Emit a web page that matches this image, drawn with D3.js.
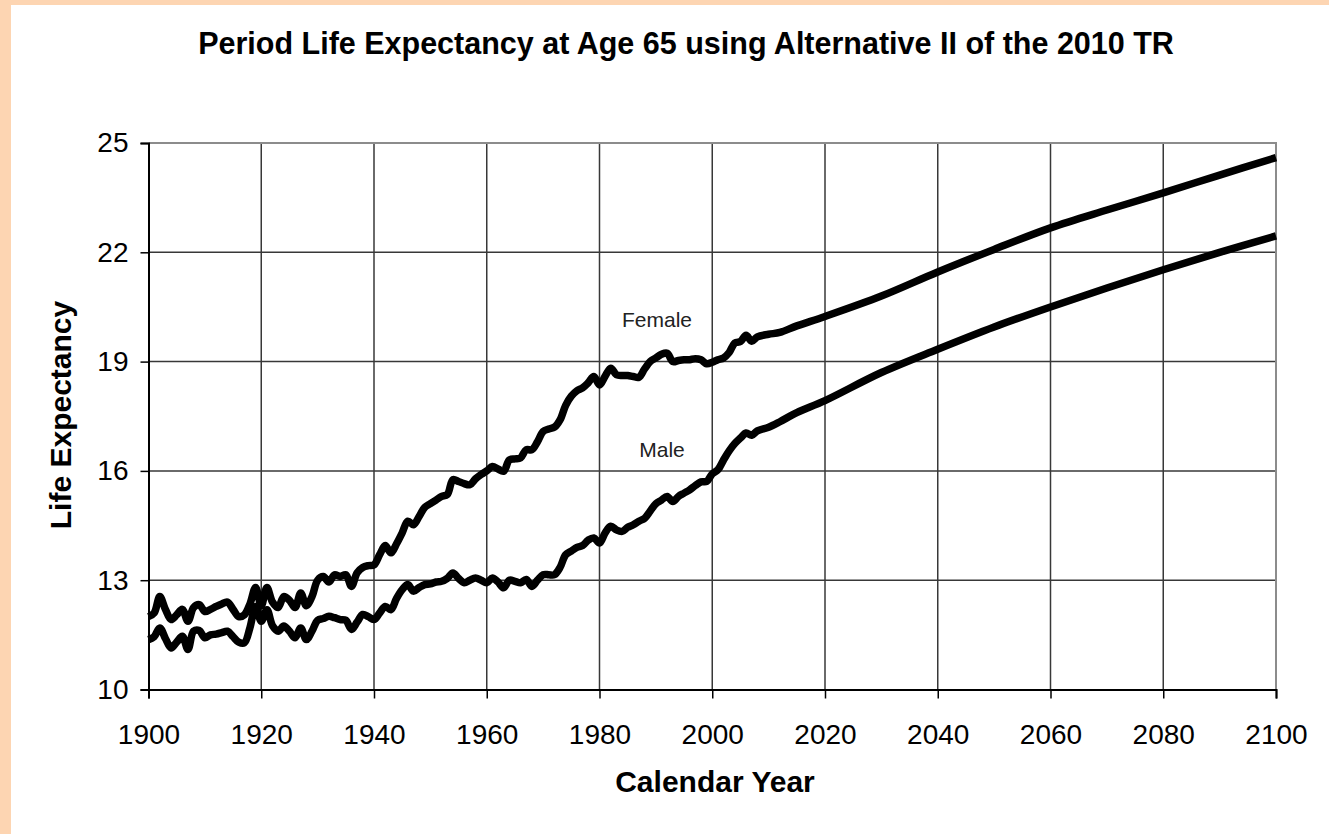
<!DOCTYPE html>
<html>
<head>
<meta charset="utf-8">
<script src="https://cdn.jsdelivr.net/npm/d3@7"></script>
<style>
  body { margin: 0; background: #fff; }
  text { font-family: "Liberation Sans", Arial, sans-serif; }
</style>
</head>
<body>
<div id="chart"></div>
<script>
// period life expectancy at 65
const femaleYears = [1900,1901,1902,1903,1904,1905,1906,1907,1908,1909,1910,1911,1912,1913,1914,1915,1916,1917,1918,1919,
  1920,1921,1922,1923,1924,1925,1926,1927,1928,1929,1930,1931,1932,1933,1934,1935,1936,1937,1938,1939,
  1940,1941,1942,1943,1944,1945,1946,1947,1948,1949,1950,1951,1952,1953,1954,1955,1956,1957,1958,1959,
  1960,1961,1962,1963,1964,1965,1966,1967,1968,1969,1970,1971,1972,1973,1974,1975,1976,1977,1978,1979,
  1980,1981,1982,1983,1984,1985,1986,1987,1988,1989,1990,1991,1992,1993,1994,1995,1996,1997,1998,1999,
  2000,2001,2002,2003,2004,2005,2006,2007,2008,2010,2012,2015,2020,2030,2040,2050,2060,2070,2080,2090,2100];
const femaleValues = [12.0,12.1,12.55,12.2,11.92,12.05,12.2,11.87,12.25,12.33,12.14,12.2,12.28,12.35,12.4,12.2,12.0,12.05,12.35,12.8,
  12.3,12.8,12.4,12.25,12.55,12.45,12.25,12.65,12.3,12.55,13.0,13.1,12.95,13.15,13.1,13.15,12.83,13.2,13.35,13.4,
  13.42,13.7,13.95,13.75,14.0,14.3,14.62,14.52,14.75,15.0,15.1,15.2,15.3,15.35,15.76,15.71,15.65,15.62,15.78,15.9,
  16.0,16.12,16.05,15.99,16.3,16.33,16.36,16.58,16.58,16.8,17.08,17.15,17.2,17.4,17.8,18.05,18.2,18.28,18.42,18.59,
  18.36,18.6,18.82,18.64,18.62,18.62,18.59,18.57,18.8,19.0,19.1,19.2,19.23,19.0,19.03,19.05,19.05,19.08,19.05,18.94,
  18.98,19.05,19.1,19.25,19.51,19.55,19.72,19.56,19.68,19.75,19.8,19.98,20.24,20.8,21.46,22.08,22.67,23.16,23.63,24.12,24.6];

const maleYears = femaleYears;
const maleValues = [11.37,11.45,11.69,11.4,11.14,11.3,11.46,11.1,11.6,11.62,11.42,11.5,11.52,11.56,11.6,11.45,11.3,11.28,11.7,12.28,
  11.87,12.19,11.75,11.6,11.74,11.6,11.42,11.69,11.37,11.6,11.9,11.95,12.01,11.97,11.92,11.9,11.65,11.85,12.06,12.0,
  11.92,12.1,12.28,12.19,12.5,12.74,12.88,12.7,12.8,12.88,12.9,12.95,12.97,13.05,13.2,13.05,12.93,13.0,13.06,13.0,
  12.93,13.06,12.95,12.79,13.0,12.97,12.93,13.02,12.83,13.0,13.15,13.15,13.15,13.35,13.7,13.8,13.9,13.95,14.1,14.16,
  14.02,14.3,14.48,14.38,14.34,14.45,14.52,14.62,14.7,14.9,15.1,15.2,15.3,15.16,15.3,15.39,15.48,15.6,15.7,15.71,
  15.92,16.03,16.3,16.55,16.75,16.9,17.04,16.98,17.1,17.2,17.35,17.6,17.93,18.7,19.34,19.95,20.5,21.02,21.52,22.0,22.45];

const xTicks = [1900,1920,1940,1960,1980,2000,2020,2040,2060,2080,2100];
const yTicks = [10,13,16,19,22,25];

const W = 1329, H = 834;
const svg = d3.select("#chart").append("svg").attr("width", W).attr("height", H);

svg.append("rect").attr("width", W).attr("height", H).attr("fill", "#fff");
svg.append("rect").attr("x", 0).attr("y", 0).attr("width", 11).attr("height", H).attr("fill", "#fdd5b2");
svg.append("rect").attr("x", 0).attr("y", 0).attr("width", W).attr("height", 5).attr("fill", "#fdd5b2");

const x = d3.scaleLinear().domain([1900, 2100]).range([148.5, 1276]);
const y = d3.scaleLinear().domain([10, 25]).range([689.5, 143]);

// grid
svg.append("g").selectAll("line").data(xTicks.slice(1, -1)).join("line")
  .attr("x1", d => x(d)).attr("x2", d => x(d)).attr("y1", y(25)).attr("y2", y(10))
  .attr("stroke", "#383838").attr("stroke-width", 1.5);
svg.append("g").selectAll("line").data(yTicks.slice(1, -1)).join("line")
  .attr("x1", x(1900)).attr("x2", x(2100)).attr("y1", d => y(d)).attr("y2", d => y(d))
  .attr("stroke", "#383838").attr("stroke-width", 1.5);

// top & right frame
svg.append("path")
  .attr("d", `M${x(1900)},${y(25)}H${x(2100)}V${y(10)}`)
  .attr("fill", "none").attr("stroke", "#8c8c8c").attr("stroke-width", 2);

// axes
const xAxis = svg.append("g").attr("transform", `translate(0,${y(10)})`)
  .call(d3.axisBottom(x).tickValues(xTicks).tickFormat(d3.format("d")).tickSize(9).tickPadding(26));
const yAxis = svg.append("g").attr("transform", `translate(${x(1900)},0)`)
  .call(d3.axisLeft(y).tickValues(yTicks).tickSize(8).tickPadding(12));
[xAxis, yAxis].forEach(g => {
  g.select(".domain").attr("stroke", "#000").attr("stroke-width", 2);
  g.selectAll(".tick line").attr("stroke", "#000").attr("stroke-width", 1.5);
  g.selectAll(".tick text").attr("font-size", 28).attr("fill", "#000")
    .attr("font-family", "'Liberation Sans', Arial, sans-serif");
});

// lines
const line = d3.line().x(d => x(d[0])).y(d => y(d[1])).curve(d3.curveCatmullRom.alpha(0.5));
const female = femaleYears.map((yr, i) => [yr, femaleValues[i]]);
const male = maleYears.map((yr, i) => [yr, maleValues[i]]);
[female, male].forEach(s => {
  svg.append("path").datum(s).attr("d", line)
    .attr("fill", "none").attr("stroke", "#000").attr("stroke-width", 7.5)
    .attr("stroke-linejoin", "round").attr("stroke-linecap", "butt");
});

// series labels
svg.append("text").attr("x", 657).attr("y", 327).attr("text-anchor", "middle")
  .attr("font-size", 21).attr("fill", "#222").text("Female");
svg.append("text").attr("x", 662).attr("y", 457).attr("text-anchor", "middle")
  .attr("font-size", 21).attr("fill", "#222").text("Male");

// titles
svg.append("text").attr("x", 686).attr("y", 54).attr("text-anchor", "middle")
  .attr("font-size", 30.5).attr("font-weight", "bold").text("Period Life Expectancy at Age 65 using Alternative II of the 2010 TR");
svg.append("text").attr("x", 715).attr("y", 792).attr("text-anchor", "middle")
  .attr("font-size", 30).attr("font-weight", "bold").text("Calendar Year");
svg.append("text").attr("transform", "translate(71,415) rotate(-90)").attr("text-anchor", "middle")
  .attr("font-size", 30).attr("font-weight", "bold").text("Life Expectancy");
</script>
</body>
</html>
